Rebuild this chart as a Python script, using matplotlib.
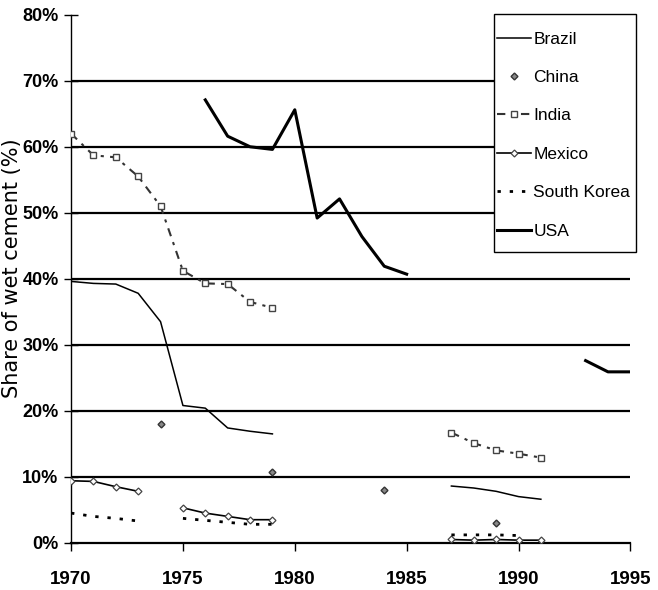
import numpy as np
import matplotlib
matplotlib.use("Agg")
import matplotlib.pyplot as plt
from matplotlib.patches import Rectangle

nan = np.nan
years = list(range(1970, 1996))

def series(pairs):
    d = dict(pairs)
    return [d.get(y, nan) for y in years]

# Values (percent)
brazil_years = [1970, 1971, 1972, 1973, 1974, 1975, 1976, 1977, 1978, 1979,
                1987, 1988, 1989, 1990, 1991]
brazil_vals = [39.6, 39.3, 39.2, 37.8, 33.5, 20.8, 20.4, 17.4, 16.9, 16.5,
               8.6, 8.3, 7.8, 7.0, 6.6]

china_years = [1974, 1979, 1984, 1989]
china_vals = [18.0, 10.8, 8.0, 3.0]

india_years = [1970, 1971, 1972, 1973, 1974, 1975, 1976, 1977, 1978, 1979,
               1987, 1988, 1989, 1990, 1991]
india_vals = [62.0, 58.7, 58.4, 55.5, 51.0, 41.2, 39.3, 39.2, 36.5, 35.6,
              16.7, 15.1, 14.0, 13.5, 12.9]

mexico_years = [1970, 1971, 1972, 1973, 1975, 1976, 1977, 1978, 1979,
                1987, 1988, 1989, 1990, 1991]
mexico_vals = [9.4, 9.3, 8.5, 7.8, 5.3, 4.5, 4.0, 3.5, 3.5,
               0.5, 0.4, 0.5, 0.4, 0.4]

korea_years = [1970, 1971, 1972, 1973, 1975, 1976, 1977, 1978, 1979,
               1987, 1988, 1989, 1990]
korea_vals = [4.5, 4.0, 3.7, 3.3, 3.7, 3.4, 3.1, 2.8, 2.8,
              1.2, 1.2, 1.2, 1.1]

usa_years = [1976, 1977, 1978, 1979, 1980, 1981, 1982, 1983, 1984, 1985,
             1993, 1994, 1995]
usa_vals = [67.1, 61.6, 60.0, 59.6, 65.6, 49.2, 52.1, 46.4, 41.9, 40.7,
            27.6, 25.9, 25.9]

x_ticks = [1970, 1975, 1980, 1985, 1990, 1995]
y_ticks = [0, 10, 20, 30, 40, 50, 60, 70, 80]
y_label = "Share of wet cement (%)"

fam = ['Liberation Sans', 'DejaVu Sans']
W, H = 658, 590

fig = plt.figure(figsize=(6.58, 5.90), dpi=100)
ax = fig.add_axes([0.108, 0.080, 0.850, 0.895])

for g in [10, 20, 30, 40, 50, 60, 70]:
    ax.axhline(g, color='black', lw=1.6, zorder=1)

b = series(zip(brazil_years, brazil_vals))
c = series(zip(china_years, china_vals))
i = series(zip(india_years, india_vals))
m = series(zip(mexico_years, mexico_vals))
k = series(zip(korea_years, korea_vals))
u = series(zip(usa_years, usa_vals))

ax.plot(years, b, color='black', lw=1.1, label='Brazil', zorder=3)
ax.plot(years, c, ls='none', marker='D', ms=3.5, color='#555555',
        mfc='#888888', mec='#333333', label='China', zorder=3)
ax.plot(years, i, color='#333333', lw=1.5, ls=(0, (4, 3, 1.5, 3)),
        marker='s', ms=4, mfc='white', mec='#444444', mew=1,
        label='India', zorder=3)
ax.plot(years, m, color='black', lw=1.2, marker='D', ms=3.5, mfc='white',
        mec='#444444', mew=0.9, label='Mexico', zorder=3)
ax.plot(years, k, color='black', lw=2.0, ls=(0, (1.2, 3.2)),
        label='South Korea', zorder=3)
ax.plot(years, u, color='black', lw=2.2, label='USA', zorder=3)

ax.set_xlim(1970, 1995)
ax.set_ylim(0, 80)
ax.set_xticks(x_ticks)
ax.set_xticklabels([str(x) for x in x_ticks])
ax.set_yticks(y_ticks)
ax.set_yticklabels([f"{y}%" for y in y_ticks])

for lab in ax.get_xticklabels():
    lab.set_fontfamily(fam)
    lab.set_fontweight('bold')
    lab.set_fontsize(13.5)
for lab in ax.get_yticklabels():
    lab.set_fontfamily(fam)
    lab.set_fontweight('bold')
    lab.set_fontsize(13)

ax.tick_params(axis='x', direction='out', length=6, width=1, pad=14)
ax.tick_params(axis='y', direction='inout', length=10, width=1, pad=4)

ax.spines['top'].set_visible(False)
ax.spines['right'].set_visible(False)
ax.spines['left'].set_linewidth(1.0)
ax.spines['bottom'].set_linewidth(1.6)

ax.set_ylabel(y_label, fontsize=15, family='DejaVu Sans')
ax.yaxis.set_label_coords(-0.088, 0.52)

# legend frame drawn separately (white box over the gridlines)
box = Rectangle((494 / W, 1 - 252 / H), (636 - 494) / W, (252 - 14) / H,
                transform=fig.transFigure, facecolor='white',
                edgecolor='black', lw=1.0, zorder=4, clip_on=False)
ax.add_patch(box)

leg = ax.legend(loc='upper left', bbox_to_anchor=(494 / W, 1 - 28 / H),
                bbox_transform=fig.transFigure, frameon=False,
                borderpad=0.2, labelspacing=1.34, handlelength=1.95,
                handletextpad=0.12, borderaxespad=0,
                prop={'family': fam, 'size': 12.5})
leg.set_zorder(5)

fig.savefig('out.png', dpi=100, facecolor='white')
